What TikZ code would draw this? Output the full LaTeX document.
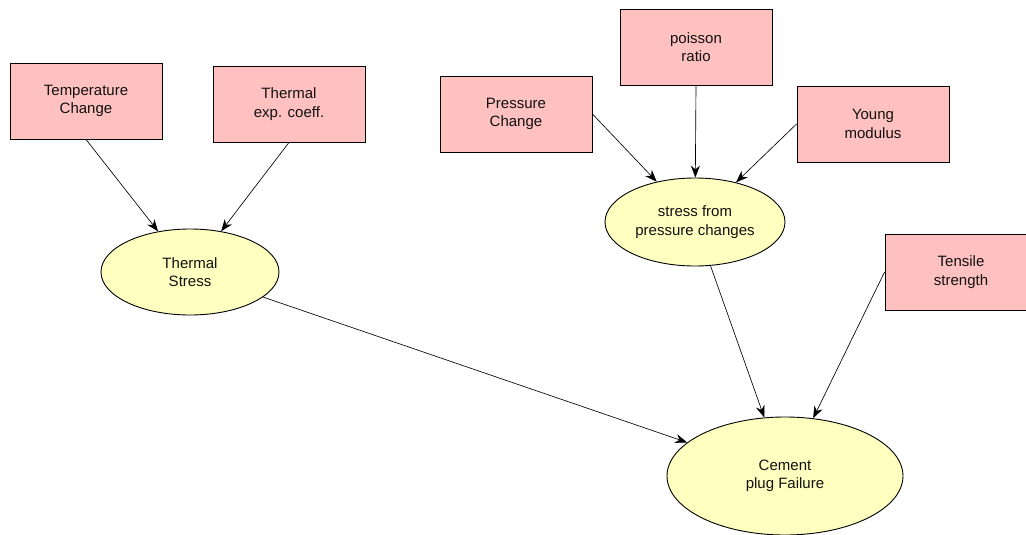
\documentclass[tikz,border=0pt]{standalone}
\usepackage{fontspec}
\setmainfont{Liberation Sans}
\usetikzlibrary{arrows.meta,shapes.geometric}
\definecolor{boxpink}{HTML}{FFC0C0}
\definecolor{ovalyellow}{HTML}{FFFFC0}
\definecolor{inktext}{HTML}{111111}
\begin{document}
\begin{tikzpicture}[x=1pt,y=-1pt,
  factor/.style={draw=black, line width=0.9pt, fill=boxpink, minimum width=152pt,
    minimum height=76pt, inner sep=0pt, align=center, text=inktext,
    font=\fontsize{15}{18.5}\selectfont},
  effect/.style={ellipse, draw=black, line width=0.9pt, fill=ovalyellow, inner sep=0pt,
    align=center, text=inktext, font=\fontsize{15}{18.5}\selectfont},
  link/.style={draw=black, line width=0.65pt, -{Stealth[length=12pt,width=9pt]}}]
\useasboundingbox (0,0) rectangle (1026,535);
% cause boxes
\node[factor] (temp) at (86,101) {Temperature\\Change};
\node[factor] (texp) at (289,104) {Thermal\\exp. coeff.};
\node[factor] (pchg) at (516,114) {Pressure\\Change};
\node[factor] (pois) at (696,47) {poisson\\ratio};
\node[factor] (young) at (873,124) {Young\\modulus};
\node[factor] (tens) at (961,272) {Tensile\\strength};
% intermediate and final effects
\node[effect, minimum width=178pt, minimum height=86pt] (tstress) at (190,272) {Thermal\\Stress};
\node[effect, minimum width=180pt, minimum height=88pt] (pstress) at (695,222) {stress from\\pressure changes};
\node[effect, minimum width=236pt, minimum height=118pt] (fail) at (785,476) {Cement\\plug Failure};
% influences
\draw[link] (temp.south) -- (tstress);
\draw[link] (texp.south) -- (tstress);
\draw[link] (pchg.east) -- (pstress);
\draw[link] (pois.south) -- (pstress);
\draw[link] (young.west) -- (pstress);
\draw[link] (tstress) -- (fail);
\draw[link] (pstress) -- (fail);
\draw[link] (tens.west) -- (fail);
\end{tikzpicture}
\end{document}
